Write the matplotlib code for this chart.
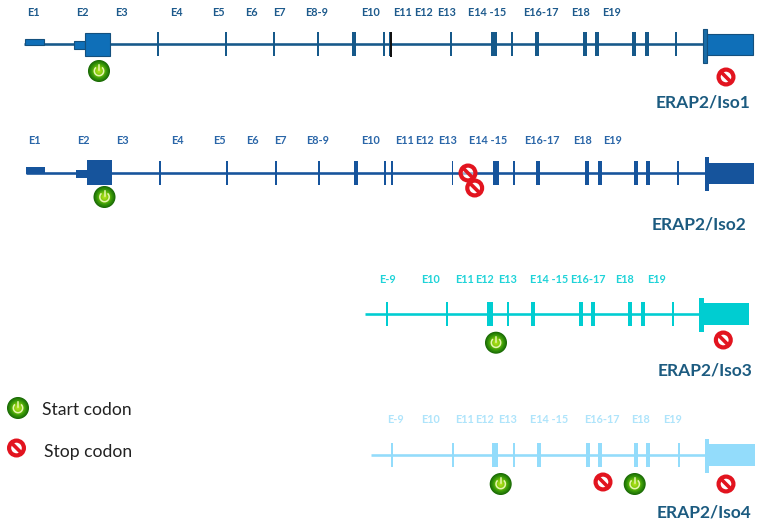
import numpy as np
import matplotlib
matplotlib.use("Agg")
import matplotlib.pyplot as plt
from matplotlib.patches import Rectangle, Circle, Arc

plt.rcParams["font.family"] = ["Lato", "DejaVu Sans"]

# exon labels (name, x) per isoform
LABELS_1 = ["E1", "E2", "E3", "E4", "E5", "E6", "E7", "E8-9", "E10", "E11", "E12", "E13", "E14 -15", "E16-17", "E18", "E19"]
LABEL_X_1 = [33, 82.5, 121, 176, 218, 251, 279.5, 317, 370, 403, 423.5, 447, 487.5, 541, 581, 611.5]
LABEL_X_2 = [34, 83.5, 122, 177, 219, 252, 280.5, 318, 371, 404, 424.5, 448, 488.5, 542, 582, 612]
LABELS_3 = ["E-9", "E10", "E11", "E12", "E13", "E14 -15", "E16-17", "E18", "E19"]
LABEL_X_3 = [387, 430, 465, 485, 508, 549, 588, 625, 656]
LABEL_X_4 = [395, 430, 464, 485, 508, 549, 602, 641, 672]

# exon ticks: centre x and width
EXON_X_1 = [158, 225.5, 273.5, 317.5, 354, 384, 390.7, 451, 493.7, 512, 536.7, 585, 597, 633.7, 646.7, 676]
EXON_W_1 = [2, 2, 2, 2, 4.5, 2, 2.5, 1.8, 6, 1.8, 4, 4, 4, 4, 4, 1.8]
EXON_X_2 = [160, 227, 276, 319, 356, 385, 392, 452.5, 495.5, 514, 538, 587, 600, 636, 648, 678]
EXON_W_2 = [2, 2, 2, 2, 4.5, 2, 2, 1.8, 6, 1.8, 4, 4, 4, 4, 4, 1.8]
EXON_X_3 = [386.7, 446.7, 489.7, 508, 533, 581, 593, 630, 642.7, 672.7]
EXON_W_3 = [2, 1.8, 6, 1.8, 4, 4, 4, 4, 4, 1.8]
EXON_X_4 = [392, 453, 495, 513.7, 538.7, 588, 600, 636, 648, 678.7]
EXON_W_4 = [2, 1.8, 6, 1.8, 4, 4, 4, 4, 4, 1.8]

# codon markers
START_1 = [(99, 71)]
STOP_1 = [(726, 77)]
START_2 = [(104.5, 197)]
STOP_2 = [(468, 173), (474.7, 188)]
START_3 = [(496, 342.7)]
STOP_3 = [(723.3, 340)]
START_4 = [(500.7, 484), (634.7, 484)]
STOP_4 = [(603, 482), (726, 484)]

DARK_NAME = "#1c5b80"
NAME_SIZE = 12.5

fig = plt.figure(figsize=(7.59, 5.27), dpi=100)
ax = fig.add_axes([0, 0, 1, 1])
ax.set_xlim(0, 759)
ax.set_ylim(527, 0)
ax.axis("off")

green = plt.cm.colors.LinearSegmentedColormap.from_list(
    "g", ["#1a6a06", "#3a9a08", "#7cc70a", "#b2e01e"])


def box(x0, x1, y0, y1, color, edge=None, z=3):
    ax.add_patch(Rectangle((x0, y0), x1 - x0, y1 - y0, facecolor=color,
                           edgecolor=edge if edge else color,
                           linewidth=0.8 if edge else 0, zorder=z))


def isoform(y, x0, x1, exon_x, exon_w, half, color, line_w=2.6):
    ax.plot([x0, x1], [y, y], color=color, linewidth=line_w * 0.72,
            solid_capstyle="butt", zorder=2)
    for x, w in zip(exon_x, exon_w):
        box(x - w / 2, x + w / 2, y - half, y + half, color)


def labels(names, xs, y, color, size=7.8):
    for name, x in zip(names, xs):
        ax.text(x, y, name, ha="center", va="center", fontsize=size,
                fontweight="bold", color=color)


def start_icon(x, y, r=11):
    # green ball, dark rim to bright centre
    for f, c in zip(np.linspace(1, 0.1, 16), green(np.linspace(0, 1, 16))):
        ax.add_patch(Circle((x, y), r * f, facecolor=c, edgecolor="none", zorder=6))
    ax.add_patch(Arc((x, y), r * 0.85, r * 0.85, theta1=-50, theta2=230,
                     color="#e6f5b0", linewidth=1.1, zorder=7))
    ax.plot([x, x], [y - r * 0.55, y - r * 0.05], color="#e6f5b0", linewidth=1.1, zorder=7)


def stop_icon(x, y, r=9.5):
    ax.add_patch(Circle((x, y), r * 0.78, facecolor=(1, 1, 1, 0.55), edgecolor="#e2141f",
                        linewidth=r * 0.44 * 0.72, zorder=6))
    d = r * 0.62
    ax.plot([x - d, x + d], [y - d, y + d], color="#e2141f", linewidth=r * 0.38 * 0.72,
            solid_capstyle="butt", zorder=7)


# Iso1
c1 = "#16598a"
isoform(43.7, 24, 706, EXON_X_1, EXON_W_1, 12, c1)
box(389.7, 391.7, 32, 57, "#111111", z=4)
box(24.5, 43.5, 38.5, 44.5, "#0f6fb8", "#14507e")
box(73.5, 85, 41, 49, "#0f6fb8", "#14507e")
box(85, 110, 33, 55.5, "#0f6fb8", "#14507e")
box(703, 707, 29, 63, "#1a6da8", "#14507e")
box(707, 752.5, 34, 55, "#0f6fb8", "#14507e")
labels(LABELS_1, LABEL_X_1, 12, "#1d5a8c")
ax.text(703, 102, "ERAP2/Iso1", ha="center", va="center", fontsize=NAME_SIZE, fontweight="bold", color=DARK_NAME)

# Iso2
c2 = "#16549c"
isoform(172.7, 26, 708, EXON_X_2, EXON_W_2, 12, c2)
box(26, 45, 167, 174, c2)
box(76, 88, 169.5, 178, c2)
box(87, 112, 160, 185, c2)
box(705, 709, 157, 191, c2)
box(709, 754, 163, 184, c2)
labels(LABELS_1, LABEL_X_2, 140, "#2a66a8")
ax.text(699, 224, "ERAP2/Iso2", ha="center", va="center", fontsize=NAME_SIZE, fontweight="bold", color=DARK_NAME)

# Iso3
c3 = "#00cdd1"
isoform(313.7, 365, 702, EXON_X_3, EXON_W_3, 12, c3)
box(698.5, 703.5, 297.5, 332, c3)
box(703, 749, 303, 325, c3)
labels(LABELS_3, LABEL_X_3, 279.5, "#1fd3d8")
ax.text(705, 371, "ERAP2/Iso3", ha="center", va="center", fontsize=NAME_SIZE, fontweight="bold", color=DARK_NAME)

# Iso4
c4 = "#93dcfb"
isoform(455.3, 371, 708, EXON_X_4, EXON_W_4, 12, c4)
box(705, 709, 439, 473, c4)
box(709, 755, 444, 466, c4)
labels(LABELS_3, LABEL_X_4, 419.5, "#aee4fb")
ax.text(704, 513, "ERAP2/Iso4", ha="center", va="center", fontsize=NAME_SIZE, fontweight="bold", color=DARK_NAME)

for x, y in START_1 + START_2 + START_3 + START_4:
    start_icon(x, y)
for x, y in STOP_1 + STOP_2 + STOP_3 + STOP_4:
    stop_icon(x, y)

# legend
start_icon(18, 408)
stop_icon(16.5, 448)
ax.text(42, 410, "Start codon", ha="left", va="center", fontsize=12.6, color="#222222")
ax.text(44, 452, "Stop codon", ha="left", va="center", fontsize=12.6, color="#222222")

fig.savefig("out.png", dpi=100)
